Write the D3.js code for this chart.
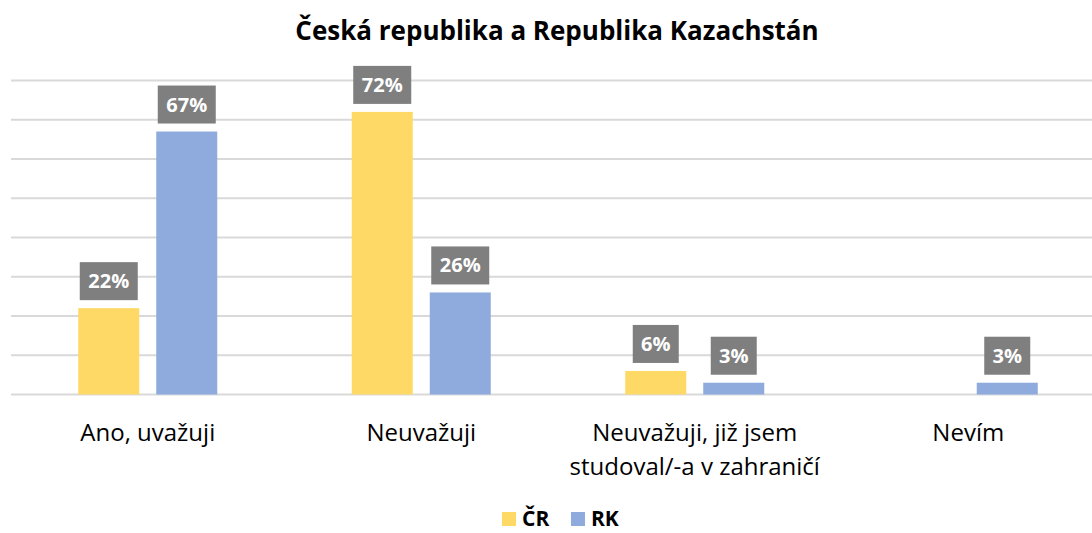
<!DOCTYPE html>
<html>
<head>
<meta charset="utf-8">
<script src="https://cdn.jsdelivr.net/npm/d3@7"></script>
<style>
  body { margin: 0; background: #fff; }
  svg { display: block; font-family: "Open Sans", "Liberation Sans", sans-serif; }
</style>
</head>
<body>
<div id="chart"></div>
<script>
const categories = [["Ano, uvažuji"], ["Neuvažuji"], ["Neuvažuji, již jsem", "studoval/-a v zahraničí"], ["Nevím"]];
const seriesNames = ["ČR", "RK"];
const valuesCR = [22, 72, 6, 0];
const valuesRK = [67, 26, 3, 3];
const colors = ["#FFD966", "#8FAADC"];
const yTicks = [0, 10, 20, 30, 40, 50, 60, 70, 80];

const width = 1092, height = 533;

const svg = d3.select("#chart").append("svg")
  .attr("width", width)
  .attr("height", height);

// title
svg.append("text")
  .attr("x", 557)
  .attr("y", 40)
  .attr("text-anchor", "middle")
  .style("font-weight", "bold")
  .style("font-size", "26px")
  .attr("fill", "#000")
  .text("Česká republika a Republika Kazachstán");

const x = d3.scaleBand()
  .domain(d3.range(categories.length))
  .range([11, 1105]);

const y = d3.scaleLinear()
  .domain([0, 80])
  .range([394.5, 80.5]);

// gridlines
svg.append("g")
  .selectAll("line")
  .data(yTicks)
  .enter().append("line")
  .attr("x1", 11)
  .attr("x2", width)
  .attr("y1", d => y(d))
  .attr("y2", d => y(d))
  .attr("stroke", "#D9D9D9")
  .attr("stroke-width", 2);

const barW = 61, gap = 17;
const data = [];
categories.forEach((c, i) => {
  [valuesCR[i], valuesRK[i]].forEach((v, s) => {
    data.push({ cat: i, s, v });
  });
});

const barX = d => x(d.cat) + x.bandwidth() / 2 - gap / 2 - barW + d.s * (barW + gap);

svg.append("g")
  .selectAll("rect")
  .data(data.filter(d => d.v > 0))
  .enter().append("rect")
  .attr("x", barX)
  .attr("width", barW)
  .attr("y", d => y(d.v))
  .attr("height", d => y(0) - y(d.v))
  .attr("fill", d => colors[d.s]);

// data labels
const lab = svg.append("g")
  .selectAll("g")
  .data(data.filter(d => d.v > 0))
  .enter().append("g")
  .attr("transform", d => `translate(${barX(d) + barW / 2},${y(d.v) - 8})`);

lab.append("rect")
  .attr("x", d => d.v >= 10 ? -29 : -23)
  .attr("width", d => d.v >= 10 ? 58 : 46)
  .attr("y", -38)
  .attr("height", 38)
  .attr("fill", "#7F7F7F");

lab.append("text")
  .attr("y", -12)
  .attr("text-anchor", "middle")
  .attr("fill", "#fff")
  .style("font-weight", "bold")
  .style("font-size", "20px")
  .text(d => d.v + "%");

// category labels
const cl = svg.append("g")
  .selectAll("text")
  .data(categories)
  .enter().append("text")
  .attr("x", (d, i) => x(i) + x.bandwidth() / 2)
  .attr("y", 441)
  .attr("text-anchor", "middle")
  .attr("fill", "#000")
  .style("font-size", "24px");

cl.selectAll("tspan")
  .data(d => d)
  .enter().append("tspan")
  .attr("x", function () { return this.parentNode.getAttribute("x"); })
  .attr("dy", (d, i) => i === 0 ? 0 : 34)
  .text(d => d);

// legend
const legend = svg.append("g");
const legX = [502, 571];
seriesNames.forEach((n, i) => {
  legend.append("rect")
    .attr("x", legX[i])
    .attr("y", 512)
    .attr("width", 14)
    .attr("height", 14)
    .attr("fill", colors[i]);
  legend.append("text")
    .attr("x", legX[i] + 20)
    .attr("y", 526)
    .style("font-weight", "bold")
    .style("font-size", "21px")
    .attr("fill", "#000")
    .text(n);
});
</script>
</body>
</html>
